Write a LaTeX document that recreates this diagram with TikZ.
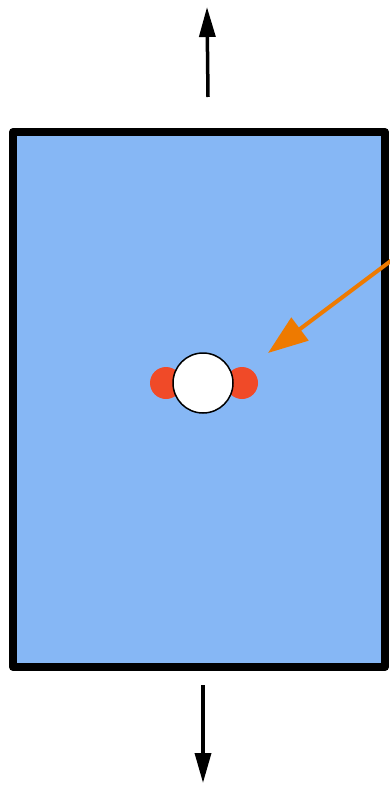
\documentclass[tikz,border=0pt]{standalone}
\usetikzlibrary{arrows.meta}
\definecolor{plateblue}{RGB}{134,183,245}
\definecolor{dotred}{RGB}{240,74,40}
\definecolor{arroworange}{RGB}{238,122,0}
\tikzset{
  plate/.style={draw=black, line width=8pt, fill=plateblue, rectangle, inner sep=0pt, line join=round},
  hole/.style={circle, draw=black, line width=1.5pt, fill=white, minimum size=60pt, inner sep=0pt},
  reddot/.style={circle, fill=dotred, minimum size=32pt, inner sep=0pt},
  loadarrow/.style={line width=3.5pt, -{Triangle[length=30pt,width=16pt]}},
  pointer/.style={draw=arroworange, line width=4pt, -{Triangle[length=40pt,width=28pt]}, color=arroworange}
}
\begin{document}
\begin{tikzpicture}[x=1pt,y=-1pt]
\useasboundingbox (0,0) rectangle (389,786);
\node[plate, minimum width=372pt, minimum height=535pt] (plate) at (199,399.5) {};
\node[reddot] (dl) at (166,383) {};
\node[reddot] (dr) at (242,383) {};
\node[hole] (hole) at (203,383) {};
\coordinate (topstart) at (208,97);
\coordinate (topend) at (207,7);
\coordinate (botstart) at (203,685);
\coordinate (botend) at (203,783);
\coordinate (pstart) at (392,260);
\coordinate (pend) at (268,353);
\draw[loadarrow] (topstart) -- (topend);
\draw[loadarrow] (botstart) -- (botend);
\draw[pointer] (pstart) -- (pend);
\end{tikzpicture}
\end{document}
